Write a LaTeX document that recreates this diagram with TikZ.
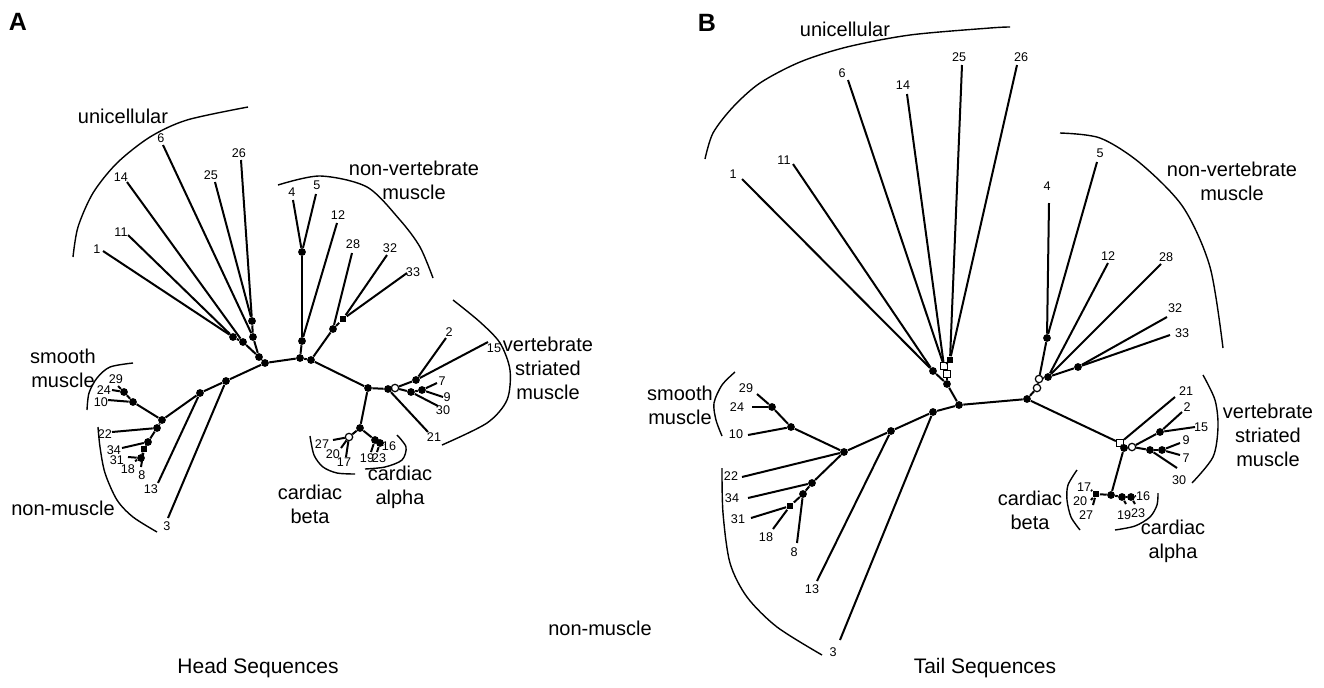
\documentclass[tikz,border=0pt]{standalone}
\usepackage{fontspec}
\setmainfont{Liberation Sans}
\usepackage{tikz}

\begin{document}
\begin{tikzpicture}[x=0.5pt,y=-0.5pt,
  br/.style={line width=1pt},
  grp/.style={line width=0.7pt},
  dot/.style={circle,fill,inner sep=0pt,minimum size=3.9pt},
  odot/.style={circle,draw,fill=white,line width=0.6pt,inner sep=0pt,minimum size=3.7pt},
  sqr/.style={rectangle,fill,inner sep=0pt,minimum size=3.4pt},
  osqr/.style={rectangle,draw,fill=white,line width=0.6pt,inner sep=0pt,minimum size=3.5pt},
  num/.style={inner sep=0pt,font=\fontsize{6.3}{6.3}\selectfont},
  capt/.style={align=center,inner sep=0pt,font=\fontsize{10}{12}\selectfont},
  panel/.style={inner sep=0pt,font=\fontsize{12.5}{12.5}\bfseries},
  title/.style={inner sep=0pt,font=\fontsize{10.5}{12}\selectfont}]
\useasboundingbox (0,0) rectangle (1324,687);

% ---- A: head sequences
\begin{scope}
  \node[panel] (Apan) at (18,22) {A};
  \foreach \n/\x/\y in {u1/233/337,u2/243/342,u3/252/321,u4/253/337,u5/259/357,
      b1/162/420,b2/200/393,b3/226/381,b4/265/363,b5/300/358,b6/311/360,b7/368/388,b8/388/389,
      n1/302/252,n2/302/341,n3/333/329,v1/416/380,v2/411/392,v3/422/390,
      c1/360/428,c3/375/440,c4/380/443,s1/133/402,s2/124/392,m1/157/428,m2/148/442,m4/141/458}
    {\node[dot] (A\n) at (\x,\y) {};}
  \node[sqr] (An4) at (343,319) {};
  \node[sqr] (Am3) at (144,449) {};
  \node[odot] (Ab9) at (395,388) {};
  \node[odot] (Ac2) at (349,437) {};
  \foreach \n/\ex/\ey/\lx/\ly in {1/103/251/97/249, 11/128/235/121/232, 14/127/182/121/177,
      6/163/145/161/138, 25/215/182/211/175, 26/241/160/239/153, 4/293/200/292/192,
      5/316/194/317/185, 12/337/223/338/215, 28/352/253/353/244, 32/387/255/390/248,
      33/407/273/413/272, 2/446/338/449/332, 15/488/342/494/348, 7/437/383/442/381,
      9/443/397/447/397, 30/438/406/443/410, 21/428/432/434/437, 27/333/440/322/444,
      20/341/448/333/454, 17/346/457/344/462, 19/371/452/367/458, 23/377/452/379/458,
      16/384/445/389/446, 29/118/386/116/379, 24/112/390/104/390, 10/108/400/101/402,
      22/112/432/105/434, 34/122/448/114/450, 31/128/457/117/460, 18/135/461/128/469,
      8/141/467/142/475, 13/158/483/151/489, 3/168/518/167/526}
    {\coordinate (A\n) at (\ex,\ey); \node[num] (A\n-lab) at (\lx,\ly) {\n};}
  \foreach \p/\q in {u1/1,u1/11,u1/u2,u2/14,u2/u5,u3/25,u3/26,u3/u4,u4/6,u4/u5,u5/b4,
      b1/b2,b2/b3,b3/b4,b4/b5,b5/b6,b6/b7,b7/b8,b8/b9,
      n1/4,n1/5,n1/n2,n2/12,n2/b5,n4/32,n4/33,n4/n3,n3/28,n3/b6,
      b9/v1,v1/2,v1/15,b9/v2,v2/v3,v3/7,v3/9,v2/30,b8/21,
      b7/c1,c1/c2,c2/27,c2/20,c2/17,c1/c3,c3/19,c3/c4,c4/23,c4/16,
      b1/s1,s1/10,s1/s2,s2/24,s2/29,b1/m1,m1/22,m1/m2,m2/34,m2/m3,m3/8,m3/m4,m4/31,m4/18,
      b2/13,b3/3}
    {\draw[br] (A\p) -- (A\q);}
  % group brackets
  \draw[grp] plot[smooth] coordinates {(73,257) (78,227) (93,193) (117,163) (150,137) (187,120) (248,107)};
  \draw[grp] plot[smooth] coordinates {(278,185) (320,176) (367,187) (400,220) (420,247) (433,278)};
  \draw[grp] plot[smooth] coordinates {(453,300) (480,322) (500,343) (510,370) (507,400) (487,423) (442,445)};
  \draw[grp] plot[smooth] coordinates {(133,363) (110,367) (97,378) (89,393) (87,410)};
  \draw[grp] plot[smooth] coordinates {(98,427) (100,447) (105,473) (117,500) (133,517) (157,532)};
  \draw[grp] plot[smooth] coordinates {(310,436) (314,455) (323,467) (337,473) (355,474)};
  \draw[grp] plot[smooth] coordinates {(397,435) (406,447) (402,460) (385,467) (365,469)};
  \node[capt] (Auni) at (123,116) {unicellular};
  \node[capt] (Anvm) at (414,180) {non-vertebrate\\muscle};
  \node[capt] (Avsm) at (548,368) {vertebrate\\striated\\muscle};
  \node[capt] (Asm) at (63,368) {smooth\\muscle};
  \node[capt] (Anm) at (63,508) {non-muscle};
  \node[capt] (Acb) at (310,504) {cardiac\\beta};
  \node[capt] (Aca) at (400,487) {cardiac\\alpha};
  \node[title] (Atit) at (258,668) {Head Sequences};
\end{scope}

% ---- B: tail sequences
\begin{scope}
  \node[panel] (Bpan) at (707,23) {B};
  \foreach \n/\x/\y in {u1/933/371,u5/947/384,r/959/405,b1/933/412,b2/891/431,b3/844/452,
      s1/791/427,s2/772/407,m1/812/483,m2/803/494,k/1027/399,n3/1048/377,n4/1078/367,
      n5/1047/338,v1/1124/448,v3/1160/432,v4/1150/450,v5/1162/450,c1/1111/495,
      c3/1122/497,c4/1131/497}
    {\node[dot] (B\n) at (\x,\y) {};}
  \node[sqr] (Bu4) at (950,360) {};
  \node[sqr] (Bm3) at (790,506) {};
  \node[sqr] (Bc2) at (1096,494) {};
  \node[osqr] (Bu2) at (944,366) {};
  \node[osqr] (Bu3) at (947,374) {};
  \node[osqr] (Bv0) at (1120,443) {};
  \node[odot] (Bn1) at (1037,388) {};
  \node[odot] (Bn2) at (1039,379) {};
  \node[odot] (Bv2) at (1132,447) {};
  \foreach \n/\ex/\ey/\lx/\ly in {1/742/179/733/174, 11/793/164/784/160, 6/848/80/842/73,
      14/907/94/903/85, 25/962/65/959/57, 26/1017/65/1021/57, 4/1049/203/1047/186,
      5/1097/162/1100/153, 12/1108/263/1108/256, 28/1161/264/1166/257, 32/1167/317/1175/308,
      33/1170/335/1182/333, 21/1175/397/1186/391, 2/1182/412/1187/407, 15/1195/427/1201/427,
      9/1180/443/1186/440, 7/1180/455/1186/458, 30/1177/468/1179/480, 17/1091/490/1084/487,
      20/1091/500/1080/501, 27/1093/505/1086/515, 19/1126/504/1124/515, 23/1135/504/1138/513,
      16/1136/496/1143/496, 29/757/394/746/388, 24/752/407/737/407, 10/748/435/736/434,
      22/742/477/731/476, 34/748/498/732/498, 31/751/518/738/519, 18/773/529/766/537,
      8/797/543/794/552, 13/817/581/812/589, 3/840/640/833/652}
    {\coordinate (B\n) at (\ex,\ey); \node[num] (B\n-lab) at (\lx,\ly) {\n};}
  \foreach \p/\q in {u1/1,u1/11,u1/u5,u2/6,u2/14,u4/25,u4/26,u4/u2,u2/u3,u3/u5,u5/r,
      r/b1,b1/b2,b2/b3,b1/3,b2/13,b3/s1,s1/10,s1/s2,s2/29,s2/24,b3/22,b3/m1,m1/34,
      m1/m2,m2/8,m2/m3,m3/31,m3/18,
      r/k,k/n1,n1/n2,n2/n5,n5/4,n5/5,n2/n3,n3/12,n3/28,n3/n4,n4/32,n4/33,
      k/v0,v0/21,v0/v1,v1/v2,v2/v3,v3/2,v3/15,v2/v4,v4/v5,v5/9,v5/7,v4/30,
      v1/c1,c1/c2,c2/17,c2/20,c2/27,c1/c3,c3/19,c3/c4,c4/23,c4/16}
    {\draw[br] (B\p) -- (B\q);}
  % group brackets
  \draw[grp] plot[smooth] coordinates {(705,159) (713,133) (733,107) (760,83) (800,62) (847,47) (910,35) (990,28) (1010,27)};
  \draw[grp] plot[smooth] coordinates {(1060,133) (1100,138) (1140,163) (1183,207) (1210,267) (1223,348)};
  \draw[grp] plot[smooth] coordinates {(1203,375) (1215,400) (1218,427) (1213,457) (1192,483)};
  \draw[grp] plot[smooth] coordinates {(735,372) (722,385) (714,403) (716,420) (722,436)};
  \draw[grp] plot[smooth] coordinates {(722,468) (723,513) (730,563) (747,597) (777,627) (822,655)};
  \draw[grp] plot[smooth] coordinates {(1077,470) (1068,485) (1067,500) (1071,517) (1080,530)};
  \draw[grp] plot[smooth] coordinates {(1158,493) (1157,505) (1150,517) (1135,526) (1115,530)};
  \node[capt] (Buni) at (845,29) {unicellular};
  \node[capt] (Bnvm) at (1232,181) {non-vertebrate\\muscle};
  \node[capt] (Bvsm) at (1268,435) {vertebrate\\striated\\muscle};
  \node[capt] (Bsm) at (680,405) {smooth\\muscle};
  \node[capt] (Bnm) at (600,628) {non-muscle};
  \node[capt] (Bcb) at (1030,510) {cardiac\\beta};
  \node[capt] (Bca) at (1173,541) {cardiac\\alpha};
  \node[title] (Btit) at (985,668) {Tail Sequences};
\end{scope}
\end{tikzpicture}
\end{document}
